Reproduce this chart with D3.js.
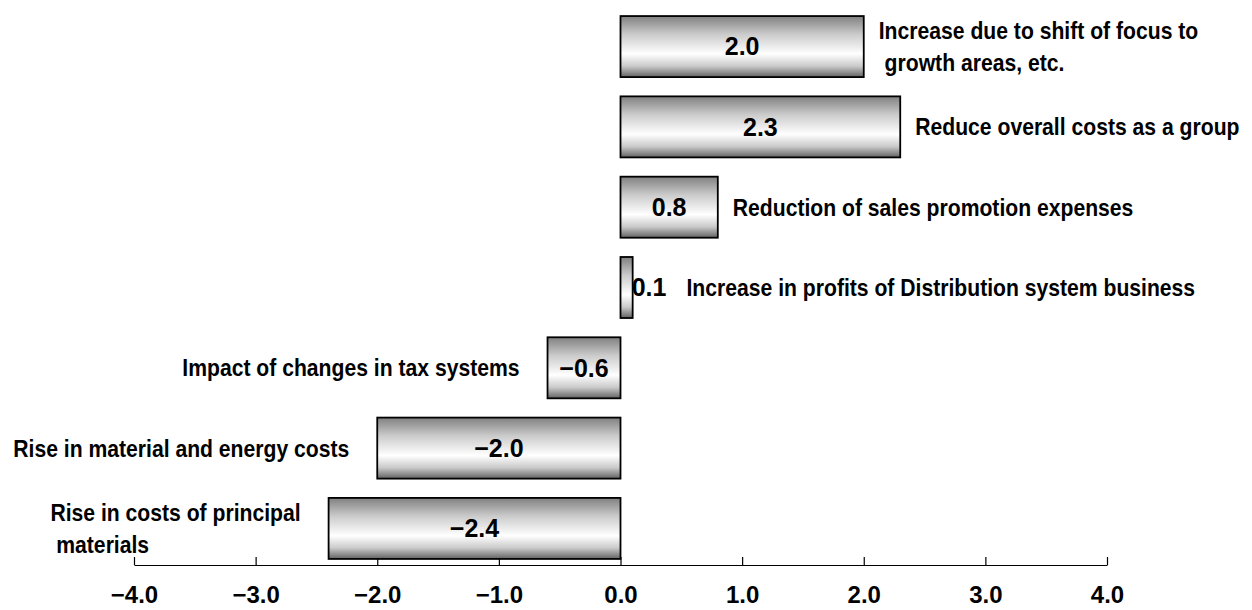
<!DOCTYPE html>
<html>
<head>
<meta charset="utf-8">
<script src="https://cdn.jsdelivr.net/npm/d3@7"></script>
<style>
  body { margin: 0; background: #fff; }
  svg { display: block; }
  .cat { font-family: "Liberation Sans Narrow", "Liberation Sans", Arial, sans-serif; font-weight: bold; font-size: 24px; fill: #000; }
  .val { font-family: "Liberation Sans", Arial, sans-serif; font-weight: bold; font-size: 25px; fill: #000; }
  .axis text { font-family: "Liberation Sans", Arial, sans-serif; font-weight: bold; font-size: 24px; fill: #000; }
</style>
</head>
<body>
<svg width="1252" height="610"></svg>
<script>
// data
const categories = [
  ["Increase due to shift of focus to", " growth areas, etc."],
  ["Reduce overall costs as a group"],
  ["Reduction of sales promotion expenses"],
  ["Increase in profits of Distribution system business"],
  ["Impact of changes in tax systems"],
  ["Rise in material and energy costs"],
  ["Rise in costs of principal", " materials"],
];
const values = [2.0, 2.3, 0.8, 0.1, -0.6, -2.0, -2.4];
const tickVals = [-4, -3, -2, -1, 0, 1, 2, 3, 4];

const svg = d3.select("svg");

// scales
const x = d3.scaleLinear().domain([-4, 4]).range([134, 1107]);
const y = d3.scaleBand()
  .domain(d3.range(values.length))
  .range([0, 575])
  .paddingInner(0.24)
  .paddingOuter(0.2);

// bar gradient (grey top, white lower middle, dark bottom)
const grad = svg.append("defs").append("linearGradient")
  .attr("id", "barGrad")
  .attr("x1", 0).attr("y1", 0).attr("x2", 0).attr("y2", 1);
[
  [0, "#808080"],
  [0.3, "#cbcbcb"],
  [0.62, "#ffffff"],
  [0.82, "#cacaca"],
  [1, "#626262"],
].forEach(([o, c]) => grad.append("stop").attr("offset", o).attr("stop-color", c));

// axis
const axis = d3.axisBottom(x)
  .tickValues(tickVals)
  .tickFormat(d3.format(".1f"))
  .tickSizeInner(-8)
  .tickSizeOuter(0);

const axisG = svg.append("g")
  .attr("class", "axis")
  .attr("transform", "translate(0,565)")
  .call(axis);
axisG.select(".domain").attr("stroke", "#000").attr("stroke-width", 1.2);
axisG.selectAll(".tick line").attr("stroke", "#000").attr("stroke-width", 1.2);
axisG.selectAll(".tick text").attr("y", 30).attr("dy", "0.35em");

// bars
svg.selectAll(".bar")
  .data(values)
  .enter()
  .append("rect")
  .attr("class", "bar")
  .attr("x", (d) => x(Math.min(0, d)))
  .attr("y", (d, i) => y(i))
  .attr("width", (d) => Math.abs(x(d) - x(0)))
  .attr("height", y.bandwidth())
  .attr("fill", "url(#barGrad)")
  .attr("stroke", "#000")
  .attr("stroke-width", 1.8);

// value labels
const fmt = d3.format(".1f");
svg.selectAll(".val")
  .data(values)
  .enter()
  .append("text")
  .attr("class", "val")
  .attr("y", (d, i) => y(i) + y.bandwidth() / 2)
  .attr("dy", "0.35em")
  .text((d) => fmt(d))
  .each(function (d) {
    const t = d3.select(this);
    const w = this.getComputedTextLength();
    const barW = Math.abs(x(d) - x(0));
    if (w > barW) {
      // too small to hold its label: put it just after the bar end
      t.attr("x", x(d) - 1).attr("text-anchor", "start");
    } else {
      t.attr("x", (x(d) + x(0)) / 2).attr("text-anchor", "middle");
    }
  });

// category labels, squeezed horizontally like the original narrow font
const probe = svg.append("text").attr("class", "cat").text("Rise in material and energy costs");
const squeeze = 336 / probe.node().getComputedTextLength();
probe.remove();

const lineH = 32;
categories.forEach((lines, i) => {
  const v = values[i];
  const cy = y(i) + y.bandwidth() / 2;
  const g = svg.append("g");
  const texts = lines.map((line, j) => {
    const t = g.append("text")
      .attr("class", "cat")
      .attr("xml:space", "preserve")
      .attr("y", cy + (j - (lines.length - 1) / 2) * lineH)
      .attr("dy", "0.35em")
      .text(line);
    const w = t.node().getComputedTextLength() * squeeze;
    t.attr("textLength", w).attr("lengthAdjust", "spacingAndGlyphs");
    return { t, w };
  });
  const maxW = d3.max(texts, (d) => d.w);
  let left;
  if (v >= 0) {
    // label after the bar end (or after the outside value label)
    const valNode = svg.selectAll(".val").nodes()[i];
    const valEnd = valNode.getBBox().x + valNode.getBBox().width;
    left = Math.max(x(v), valEnd) + (valEnd > x(v) ? 20 : 15);
  } else {
    left = x(v) - 28 - maxW;
  }
  texts.forEach(({ t }) => t.attr("x", left));
});
</script>
</body>
</html>
